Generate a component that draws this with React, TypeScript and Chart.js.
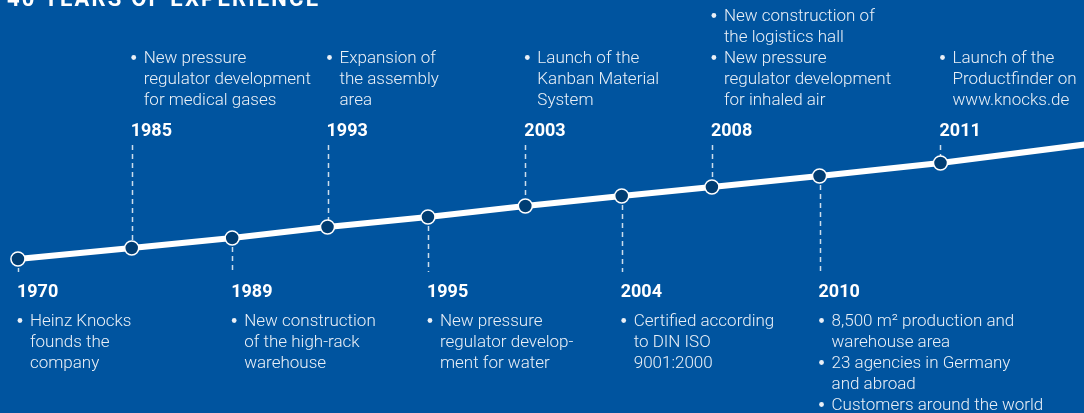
import React, { useEffect, useRef } from 'react';
import { Chart, registerables } from 'chart.js';

Chart.register(...registerables);

// ---- data ----
const years = ['1970', '1985', '1989', '1993', '1995', '2003', '2004', '2008', '2010', '2011'];
// position of each milestone along the timeline (slot units)
const slots = [0, 1.11, 2.09, 3.02, 4.0, 4.95, 5.89, 6.77, 7.82, 9.0];
// height of the rising "experience" line at each milestone
const levels = [154, 165, 175, 186, 196, 207, 217, 226, 237, 250];
const tailSlot = 10.6;
const tailLevel = 271;
const sides = ['below', 'above', 'below', 'above', 'below', 'above', 'below', 'above', 'below', 'above'];
const notes: string[][][] = [
  [['Heinz Knocks', 'founds the', 'company']],
  [['New pressure', 'regulator development', 'for medical gases']],
  [['New construction', 'of the high-rack', 'warehouse']],
  [['Expansion of', 'the assembly', 'area']],
  [['New pressure', 'regulator develop-', 'ment for water']],
  [['Launch of the', 'Kanban Material', 'System']],
  [['Certified according', 'to DIN ISO', '9001:2000']],
  [['New construction of', 'the logistics hall'], ['New pressure', 'regulator development', 'for inhaled air']],
  [['8,500 m² production and', 'warehouse area'], ['23 agencies in Germany', 'and abroad'], ['Customers around the world']],
  [['Launch of the', 'Productfinder on', 'www.knocks.de']],
];
const title = '40 YEARS OF EXPERIENCE';

// ---- styles ----
const BG = '#00549f';
const DOT = '#003d73';
const WIDTH = 1084;
const HEIGHT = 413;

const timelinePlugin = {
  id: 'timeline',
  beforeDraw(chart: any) {
    const { ctx } = chart;
    ctx.save();
    ctx.fillStyle = BG;
    ctx.fillRect(0, 0, chart.width, chart.height);
    ctx.restore();
  },
  beforeDatasetsDraw(chart: any) {
    const { ctx } = chart;
    const xs = chart.scales.x;
    const ys = chart.scales.y;
    ctx.save();
    ctx.strokeStyle = 'rgba(255,255,255,0.8)';
    ctx.lineWidth = 1.5;
    ctx.setLineDash([5, 4]);
    years.forEach((_, i) => {
      const px = Math.round(xs.getPixelForValue(slots[i])) + 0.5;
      const py = ys.getPixelForValue(levels[i]);
      ctx.beginPath();
      if (sides[i] === 'above') {
        ctx.moveTo(px, 145);
        ctx.lineTo(px, py);
      } else {
        ctx.moveTo(px, py);
        ctx.lineTo(px, 272);
      }
      ctx.stroke();
    });
    ctx.restore();
  },
  afterDatasetsDraw(chart: any) {
    const { ctx } = chart;
    const xs = chart.scales.x;
    const lh = 21;
    ctx.save();
    ctx.textBaseline = 'alphabetic';
    ctx.textAlign = 'left';
    years.forEach((yr, i) => {
      const px = xs.getPixelForValue(slots[i]);
      const above = sides[i] === 'above';
      ctx.fillStyle = '#ffffff';
      ctx.font = 'bold 18px Roboto, "Liberation Sans", sans-serif';
      ctx.fillText(yr, px - 1, above ? 136 : 297);

      const lines: { text: string; bullet: boolean }[] = [];
      notes[i].forEach((b) => b.forEach((t, k) => lines.push({ text: t, bullet: k === 0 })));
      const startY = above ? 105 - (lines.length - 1) * lh : 326;
      ctx.font = '300 17px Roboto, "Liberation Sans", sans-serif';
      ctx.fillStyle = '#eaf0f7';
      lines.forEach((ln, k) => {
        const by = startY + k * lh;
        if (ln.bullet) {
          ctx.beginPath();
          ctx.arc(px + 2, by - 5.5, 2.4, 0, Math.PI * 2);
          ctx.fill();
        }
        ctx.fillText(ln.text, px + 12, by);
      });
    });

    // title (partly cut by the top edge)
    ctx.fillStyle = '#ffffff';
    ctx.font = 'bold 22px Roboto, "Liberation Sans", sans-serif';
    const plain = ctx.measureText(title).width;
    const spacing = (311 - plain) / (title.length - 1);
    let x = 7;
    for (const ch of title) {
      ctx.fillText(ch, x, 6);
      x += ctx.measureText(ch).width + spacing;
    }
    ctx.restore();
  },
};

export default function App() {
  const ref = useRef<HTMLCanvasElement | null>(null);
  useEffect(() => {
    if (!ref.current) return;
    const pts = years.map((_, i) => ({ x: slots[i], y: levels[i] }));
    pts.push({ x: tailSlot, y: tailLevel });
    const chart = new Chart(ref.current, {
      type: 'line',
      data: {
        datasets: [
          {
            data: pts,
            borderColor: '#ffffff',
            borderWidth: 6,
            pointRadius: pts.map((_, i) => (i < years.length ? 7 : 0)),
            pointBackgroundColor: DOT,
            pointBorderColor: '#ffffff',
            pointBorderWidth: 1.5,
            tension: 0,
          },
        ],
      },
      options: {
        responsive: false,
        animation: false,
        devicePixelRatio: 1,
        layout: { padding: 0, autoPadding: false },
        plugins: { legend: { display: false }, tooltip: { enabled: false } },
        events: [],
        scales: {
          x: { type: 'linear', display: false, min: -0.175, max: 10.4 },
          y: { type: 'linear', display: false, min: 0, max: 413 },
        },
      },
      plugins: [timelinePlugin],
    });
    return () => chart.destroy();
  }, []);
  return (
    <div style={{ position: 'absolute', left: 0, top: 0, width: WIDTH, height: HEIGHT }}>
      <canvas ref={ref} width={WIDTH} height={HEIGHT} />
    </div>
  );
}
